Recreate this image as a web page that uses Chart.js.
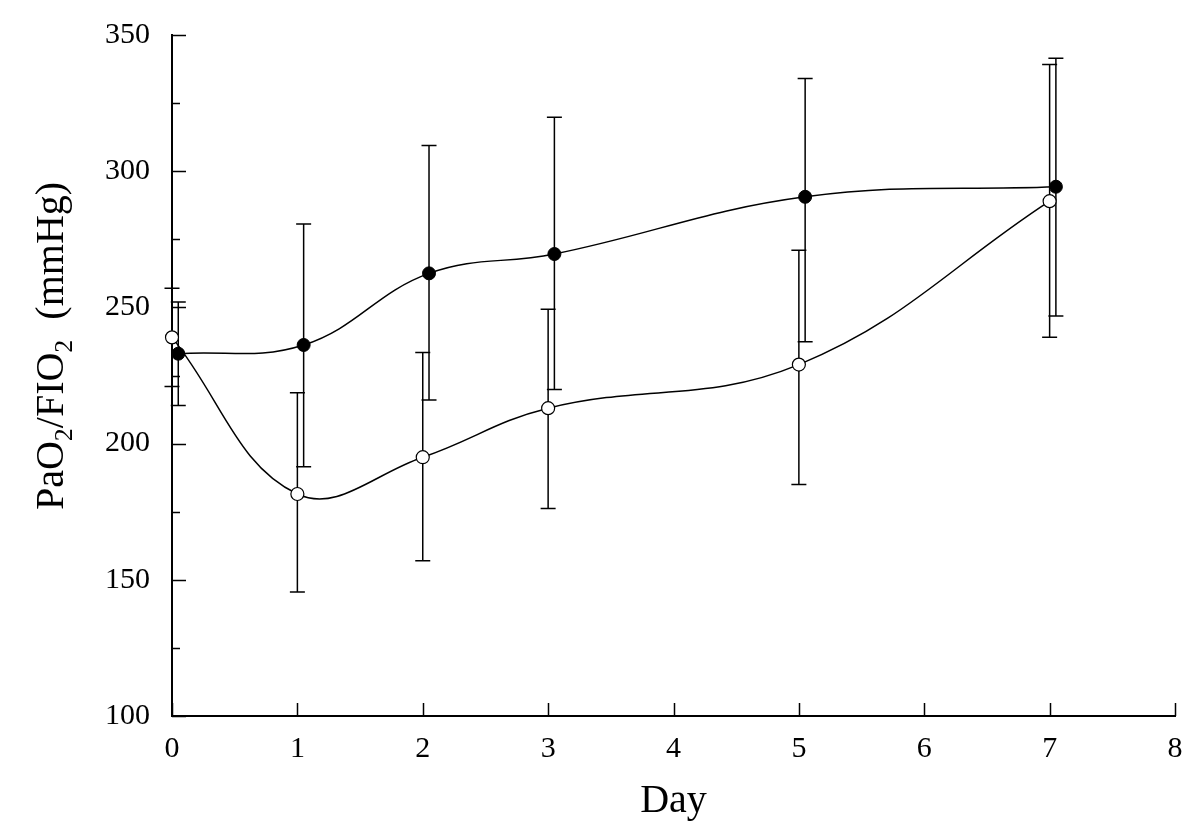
<!DOCTYPE html>
<html>
<head>
<meta charset="utf-8">
<title>PaO2/FIO2 by day</title>
<script src="https://cdn.jsdelivr.net/npm/chart.js@4.4.1/dist/chart.umd.min.js"></script>
<style>
  html, body { margin: 0; padding: 0; background: #fff; }
  #wrap { width: 1200px; height: 834px; }
</style>
</head>
<body>
<div id="wrap"><canvas id="chart"></canvas></div>
<script>
// days (the filled group sits a little to the right of the open one)
const openDays   = [0, 1, 2, 3, 5, 7];
const filledDays = [0.05, 1.05, 2.05, 3.05, 5.05, 7.05];

// open circles: mean and error bar ends
const openMean = [239, 181.5, 195, 213, 229, 289];
const openHigh = [257, 218.7, 233.4, 249.3, 271, 339.2];
const openLow  = [221, 145.5, 157, 176.2, 185, 239];

// filled circles: mean and error bar ends
const filledMean = [233, 236.2, 262.5, 269.6, 290.6, 294.3];
const filledHigh = [252, 280.6, 309.4, 319.8, 334, 341.5];
const filledLow  = [214, 191.5, 216, 219.9, 237.4, 246.8];

// labelled y ticks (minor ticks every 25 in between)
const yTickLabels = [100, 150, 200, 250, 300, 350];

const FONT = "'Liberation Serif', 'Times New Roman', serif";

const toPoints = (xs, ys) => xs.map((x, i) => ({ x: x, y: ys[i] }));

const errorBars = {
    id: 'errorBars',
    beforeDatasetsDraw(chart) {
        const { ctx, scales: { x, y } } = chart;
        ctx.save();
        ctx.strokeStyle = '#000';
        ctx.lineWidth = 1.5;
        chart.data.datasets.forEach(ds => {
            ds.data.forEach((p, i) => {
                const px = x.getPixelForValue(p.x);
                const top = y.getPixelForValue(ds.errHigh[i]);
                const bot = y.getPixelForValue(ds.errLow[i]);
                ctx.beginPath();
                ctx.moveTo(px, top); ctx.lineTo(px, bot);
                ctx.moveTo(px - 7.5, top); ctx.lineTo(px + 7.5, top);
                ctx.moveTo(px - 7.5, bot); ctx.lineTo(px + 7.5, bot);
                ctx.stroke();
            });
        });
        ctx.restore();
    }
};

// tick marks pointing into the plot
const inwardTicks = {
    id: 'inwardTicks',
    afterDraw(chart) {
        const { ctx, chartArea: a, scales: { x, y } } = chart;
        ctx.save();
        ctx.strokeStyle = '#000';
        ctx.lineWidth = 1.5;
        ctx.beginPath();
        y.ticks.forEach(t => {
            const py = Math.round(y.getPixelForValue(t.value)) + 0.5;
            const len = yTickLabels.includes(t.value) ? 14 : 8;
            ctx.moveTo(a.left, py);
            ctx.lineTo(a.left + len, py);
        });
        x.ticks.forEach(t => {
            const px = Math.round(x.getPixelForValue(t.value)) + 0.5;
            ctx.moveTo(px, a.bottom);
            ctx.lineTo(px, a.bottom - 13);
        });
        ctx.stroke();
        ctx.restore();
    }
};

// y title with real subscripts
const yTitle = {
    id: 'yTitle',
    afterDraw(chart) {
        const ctx = chart.ctx;
        const parts = [['PaO', 0], ['2', 1], ['/FIO', 0], ['2', 1], ['  (mmHg)', 0]];
        const big = '40px ' + FONT, small = '26px ' + FONT;
        ctx.save();
        let total = 0;
        parts.forEach(([t, sub]) => { ctx.font = sub ? small : big; total += ctx.measureText(t).width; });
        ctx.translate(63, 346);
        ctx.rotate(-Math.PI / 2);
        ctx.fillStyle = '#000';
        ctx.textBaseline = 'alphabetic';
        let cx = -total / 2;
        parts.forEach(([t, sub]) => {
            ctx.font = sub ? small : big;
            ctx.fillText(t, cx, sub ? 9 : 0);
            cx += ctx.measureText(t).width;
        });
        ctx.restore();
    }
};

new Chart(document.getElementById('chart'), {
    type: 'line',
    data: {
        datasets: [
            {
                label: 'filled',
                data: toPoints(filledDays, filledMean),
                errHigh: filledHigh,
                errLow: filledLow,
                borderColor: '#000',
                borderWidth: 1.5,
                tension: 0.4,
                pointRadius: 6.5,
                pointBackgroundColor: '#000',
                pointBorderColor: '#000',
                pointBorderWidth: 1,
                clip: false
            },
            {
                label: 'open',
                data: toPoints(openDays, openMean),
                errHigh: openHigh,
                errLow: openLow,
                borderColor: '#000',
                borderWidth: 1.5,
                tension: 0.4,
                pointRadius: 6.5,
                pointBackgroundColor: '#fff',
                pointBorderColor: '#000',
                pointBorderWidth: 1.2,
                clip: false
            }
        ]
    },
    options: {
        responsive: true,
        maintainAspectRatio: false,
        animation: false,
        layout: { padding: { top: 35, right: 25, left: 0, bottom: 0 } },
        plugins: { legend: { display: false }, tooltip: { enabled: false } },
        scales: {
            x: {
                type: 'linear',
                min: 0,
                max: 8,
                ticks: { stepSize: 1, color: '#000', padding: 15, font: { family: FONT, size: 30 } },
                grid: { display: false, drawTicks: false },
                border: { color: '#000', width: 2 },
                title: { display: true, text: 'Day', color: '#000', font: { family: FONT, size: 40 }, padding: { top: 0, bottom: 9 } },
                afterFit: s => { s.height = 118; }
            },
            y: {
                min: 100,
                max: 350,
                ticks: {
                    stepSize: 25,
                    color: '#000',
                    padding: 16,
                    font: { family: FONT, size: 30 },
                    callback: v => yTickLabels.includes(v) ? v : ''
                },
                grid: { display: false, drawTicks: true, tickLength: 6 },
                border: { color: '#000', width: 2 },
                afterFit: s => { s.width = 172; }
            }
        }
    },
    plugins: [errorBars, inwardTicks, yTitle]
});
</script>
</body>
</html>
